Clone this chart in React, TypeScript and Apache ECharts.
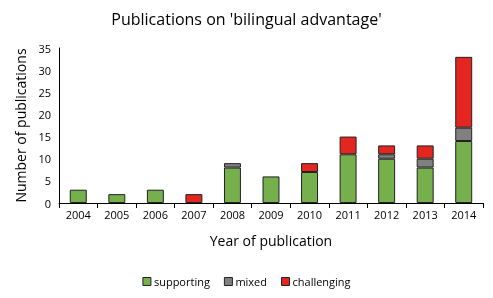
import React, { useEffect, useRef } from "react";
import * as echarts from "echarts";

const years = ["2004", "2005", "2006", "2007", "2008", "2009", "2010", "2011", "2012", "2013", "2014"];
const supporting = [3, 2, 3, 0, 8, 6, 7, 11, 10, 8, 14];
const mixed = [0, 0, 0, 0, 1, 0, 0, 0, 1, 2, 3];
const challenging = [0, 0, 0, 2, 0, 0, 2, 4, 2, 3, 16];

const FONT = "'Open Sans', 'Noto Sans', sans-serif";

export default function App() {
  const ref = useRef<HTMLDivElement>(null);
  useEffect(() => {
    if (!ref.current) return;
    const chart = echarts.init(ref.current, null, { renderer: "svg" });
    const mk = (name: string, data: number[], color: string) => ({
      name,
      type: "bar",
      stack: "total",
      data: data.map((v) => (v === 0 ? null : v)),
      barWidth: "44%",
      itemStyle: { color, borderColor: "#222", borderWidth: 1 },
    });
    chart.setOption({
      animation: false,
      textStyle: { fontFamily: FONT },
      title: {
        text: "Publications on 'bilingual advantage'",
        left: "center",
        top: 6,
        textStyle: { fontFamily: FONT, fontSize: 16, fontWeight: "normal", color: "#000" },
      },
      legend: {
        bottom: 6,
        left: "center",
        itemWidth: 8,
        itemHeight: 8,
        itemGap: 14,
        icon: "rect",
        textStyle: { fontFamily: FONT, fontSize: 11, color: "#000", padding: [0, 0, 0, -2] },
        data: ["supporting", "mixed", "challenging"].map((n) => ({
          name: n,
          itemStyle: { borderColor: "#222", borderWidth: 1 },
        })),
      },
      grid: { left: 59, right: 10, top: 48, bottom: 95, containLabel: false },
      xAxis: {
        type: "category",
        data: years,
        name: "Year of publication",
        nameLocation: "middle",
        nameGap: 30,
        nameTextStyle: { fontFamily: FONT, fontSize: 14, color: "#000" },
        axisLine: { lineStyle: { color: "#000" } },
        axisTick: { show: true, length: 5, lineStyle: { color: "#000" } },
        axisLabel: { fontFamily: FONT, fontSize: 11, color: "#000", margin: 6 },
      },
      yAxis: {
        type: "value",
        min: 0,
        max: 35,
        interval: 5,
        name: "Number of publications",
        nameLocation: "middle",
        nameGap: 32,
        nameTextStyle: { fontFamily: FONT, fontSize: 14, color: "#000" },
        axisLine: { show: true, lineStyle: { color: "#000" } },
        axisTick: { show: false },
        splitLine: { show: false },
        axisLabel: { fontFamily: FONT, fontSize: 11, color: "#000", margin: 8 },
      },
      series: [
        mk("supporting", supporting, "#76b04d"),
        mk("mixed", mixed, "#808080"),
        mk("challenging", challenging, "#e3261f"),
      ],
    });
    return () => chart.dispose();
  }, []);
  return (
    <div
      ref={ref}
      style={{ position: "fixed", left: 0, top: 0, width: 493, height: 298 }}
    />
  );
}
